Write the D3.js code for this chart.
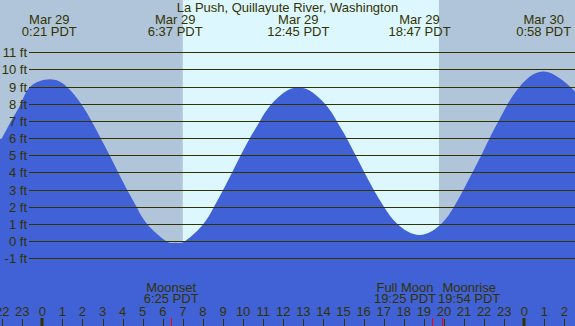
<!DOCTYPE html>
<html lang="en">
<head>
    <meta charset="UTF-8">
    <title>La Push tide chart</title>
    <script src="https://d3js.org/d3.v7.min.js"></script>
    <style>
        body { margin: 0; padding: 0; background: #fff; }
        svg { display: block; }
        text { font-family: 'Liberation Sans', Arial, sans-serif; fill: #333300; font-size: 13px; }
    </style>
</head>
<body>
    <div id="chart"></div>
    <script>
        // Title
        const title = "La Push, Quillayute River, Washington";

        // Tide series (hours since Mar 29 0:00 PDT, feet)
        const tideHours = [-2.11, -2.02, -1.55, -1.07, -0.6, 0.38, 1.22, 1.93, 2.45, 2.91, 3.35, 3.78, 4.22, 4.69, 5.22, 6.17, 6.62,
                           7.1, 8.02, 8.55, 9.01, 9.45, 9.88, 10.33, 10.84, 11.43, 12.75, 14.07, 14.66, 15.16, 15.6, 16.04, 16.5,
                           17.01, 17.68, 18.78, 19.86, 20.5, 20.97, 21.42, 21.86, 22.27, 22.72, 23.18, 23.77, 24.97, 26.28, 26.53];
        const tideFeet  = [6.2, 6, 7, 8, 9, 9.43, 9, 8, 7, 6, 5, 4, 3, 2, 1, 0, -0.09,
                           0, 1, 2, 3, 4, 5, 6, 7, 8, 8.96, 8, 7, 6, 5, 4, 3,
                           2, 1, 0.36, 1, 2, 3, 4, 5, 6, 7, 8, 9, 9.88, 9, 8.7];

        // High / low extremes labelled at the top
        const extremeHours = [0.35, 6.617, 12.75, 18.783, 24.967];
        const extremeDates = ["Mar 29", "Mar 29", "Mar 29", "Mar 29", "Mar 30"];
        const extremeTimes = ["0:21 PDT", "6:37 PDT", "12:45 PDT", "18:47 PDT", "0:58 PDT"];

        // Moon events along the bottom
        const moonHours = [6.417, 19.417, 19.9];
        const moonNames = ["Moonset", "Full Moon", "Moonrise"];
        const moonTimes = ["6:25 PDT", "19:25 PDT", "19:54 PDT"];

        // Sunrise / sunset (hours)
        const sunrise = 7.0;
        const sunset = 19.75;

        // Axis ticks
        const footTicks = d3.range(-1, 12);
        const hourTicks = d3.range(-2, 27);

        const width = 575, height = 326;
        const hourDomain = [-2.106, 26.525];

        const x = d3.scaleLinear().domain(hourDomain).range([0, width]);
        const y = d3.scaleLinear().domain([-1, 11]).range([258.3, 52.3]);

        const svg = d3.select("#chart").append("svg")
            .attr("width", width)
            .attr("height", height);

        // Night / day background
        const bands = [
            { from: hourDomain[0], to: sunrise, color: "#b0c4da" },
            { from: sunrise, to: sunset, color: "#ddf7fe" },
            { from: sunset, to: hourDomain[1], color: "#b0c4da" }
        ];
        svg.append("g").selectAll("rect")
            .data(bands)
            .enter().append("rect")
            .attr("x", d => x(d.from))
            .attr("y", 0)
            .attr("width", d => x(d.to) - x(d.from))
            .attr("height", height)
            .attr("fill", d => d.color);

        // Tide area
        const tide = tideHours.map((h, i) => ({ h: h, ft: tideFeet[i] }));
        const area = d3.area()
            .x(d => x(d.h))
            .y0(height)
            .y1(d => y(d.ft))
            .curve(d3.curveNatural);
        svg.append("path")
            .datum(tide)
            .attr("d", area)
            .attr("fill", "#4161d7");

        // Horizontal foot lines and labels
        const grid = svg.append("g");
        grid.selectAll("line")
            .data(footTicks)
            .enter().append("line")
            .attr("x1", 29)
            .attr("x2", width)
            .attr("y1", d => Math.round(y(d)) + 0.5)
            .attr("y2", d => Math.round(y(d)) + 0.5)
            .attr("stroke", "#333300")
            .attr("stroke-width", 1);
        grid.selectAll("text")
            .data(footTicks)
            .enter().append("text")
            .attr("x", 27)
            .attr("y", d => Math.round(y(d)) + 5)
            .attr("text-anchor", "end")
            .text(d => d + " ft");

        // Title and extreme labels
        svg.append("text")
            .attr("x", width / 2)
            .attr("y", 12)
            .attr("text-anchor", "middle")
            .text(title);

        const ext = svg.append("g").selectAll("g")
            .data(extremeHours)
            .enter().append("g");
        ext.append("text")
            .attr("x", d => x(d))
            .attr("y", 24)
            .attr("text-anchor", "middle")
            .text((d, i) => extremeDates[i]);
        ext.append("text")
            .attr("x", d => x(d))
            .attr("y", 36)
            .attr("text-anchor", "middle")
            .text((d, i) => extremeTimes[i]);

        // Hour axis
        const hours = svg.append("g");
        hours.selectAll("text")
            .data(hourTicks)
            .enter().append("text")
            .attr("x", d => x(d))
            .attr("y", 316)
            .attr("text-anchor", "middle")
            .text(d => ((d % 24) + 24) % 24);
        hours.selectAll("rect")
            .data(hourTicks)
            .enter().append("rect")
            .attr("x", d => d % 24 === 0 ? Math.round(x(d)) - 1.5 : Math.round(x(d)))
            .attr("y", d => d % 24 === 0 ? 318 : 319)
            .attr("width", d => d % 24 === 0 ? 3 : 1)
            .attr("height", d => d % 24 === 0 ? 8 : 7)
            .attr("fill", "#333300");

        // Moon events: red ticks + labels pushed apart when they collide
        svg.append("g").selectAll("rect")
            .data(moonHours)
            .enter().append("rect")
            .attr("x", d => Math.round(x(d)))
            .attr("y", 318)
            .attr("width", 1)
            .attr("height", 8)
            .attr("fill", "#ff0000");

        const moonG = svg.append("g");
        const moonLabels = moonHours.map((h, i) => {
            const g = moonG.append("g");
            g.append("text").attr("y", 292).attr("text-anchor", "middle").text(moonNames[i]);
            g.append("text").attr("y", 303).attr("text-anchor", "middle").text(moonTimes[i]);
            const w = g.node().getBBox().width;
            return { g: g, cx: x(h), w: w };
        });
        for (let i = 1; i < moonLabels.length; i++) {
            const a = moonLabels[i - 1], b = moonLabels[i];
            const overlap = (a.cx + a.w / 2 + 2) - (b.cx - b.w / 2);
            if (overlap > 0) {
                const mid = (a.cx + b.cx) / 2;
                a.cx = mid - 1 - a.w / 2;
                b.cx = mid + 1 + b.w / 2;
            }
        }
        moonLabels.forEach(m => m.g.selectAll("text").attr("x", m.cx));
    </script>
</body>
</html>
